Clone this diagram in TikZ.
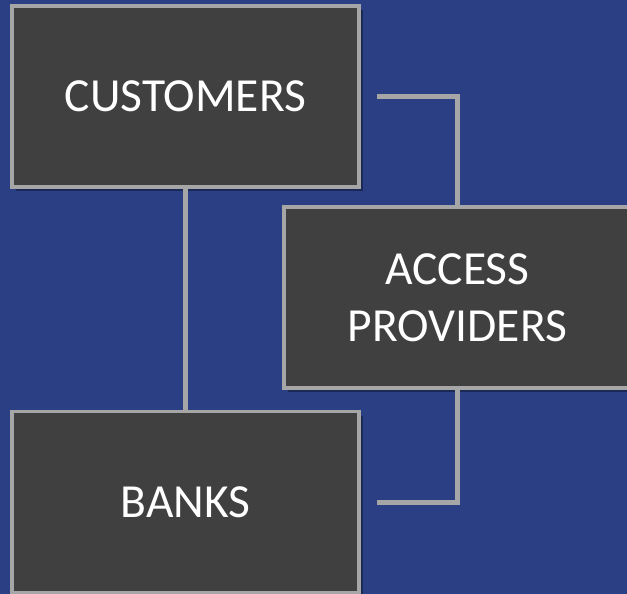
\documentclass[tikz,border=0pt]{standalone}
\usepackage{fontspec}
\setmainfont{Carlito}
\usetikzlibrary{shadows}
\definecolor{bgblue}{HTML}{2B3F85}
\definecolor{boxgray}{HTML}{404040}
\definecolor{linegray}{HTML}{A6A6A6}
\begin{document}
\begin{tikzpicture}[x=1pt,y=-1pt,
  party/.style={draw=linegray,line width=3.5pt,fill=boxgray,text=white,
    minimum width=347pt,minimum height=181pt,align=center,
    font=\fontsize{47.5}{57}\selectfont,
    drop shadow={shadow xshift=4pt,shadow yshift=-4pt,opacity=0.35,fill=black}},
  link/.style={draw=linegray,line width=5pt}]
\clip (0,0) rectangle (627,594);
\fill[bgblue] (0,0) rectangle (627,594);
\node[party] (cust) at (185.5,96.5) {CUSTOMERS};
\node[party] (acc) at (457.5,297.5) {ACCESS\\PROVIDERS};
\node[party] (bank) at (185.5,502) {BANKS};
\coordinate (custend) at ([xshift=16pt]cust.east);
\coordinate (bankend) at ([xshift=16pt]bank.east);
\draw[link] (cust.south) -- (bank.north);
\draw[link] (custend) -| (acc.north);
\draw[link] (acc.south) |- (bankend);
\end{tikzpicture}
\end{document}
